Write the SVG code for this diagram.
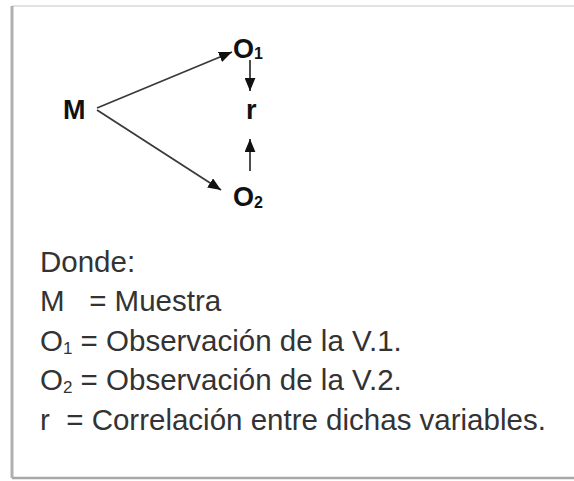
<svg xmlns="http://www.w3.org/2000/svg" width="574" height="481" viewBox="0 0 574 481">
<defs>
<marker id="ah" viewBox="0 0 12 10" refX="12" refY="5" markerWidth="13" markerHeight="11" markerUnits="userSpaceOnUse" orient="auto">
<path d="M0,0 L12,5 L0,10 Z" fill="#111"/>
</marker>
<style>
.n{font-family:"Liberation Sans",Arial,sans-serif;font-weight:bold;font-size:27px;fill:#111}
.sub{font-size:16px}
.leg{font-family:"Liberation Sans",Arial,sans-serif;font-size:29.5px;fill:#333}
.lsub{font-size:17px}
.c{stroke:#3a3a3a;stroke-width:1.8;fill:none;marker-end:url(#ah)}
</style>
</defs>
<rect x="0" y="0" width="574" height="481" fill="#fff"/>
<g id="frame">
<line x1="12" y1="6" x2="574" y2="6" stroke="#e2e2e2" stroke-width="2"/>
<line x1="12" y1="6" x2="12" y2="478" stroke="#b0b0b0" stroke-width="3"/>
<line x1="12" y1="478" x2="574" y2="478" stroke="#a8a8a8" stroke-width="2.5"/>
</g>
<g id="connectors">
<line class="c" x1="97" y1="108" x2="232" y2="52"/>
<line class="c" x1="97" y1="110" x2="221" y2="190"/>
<line class="c" x1="250" y1="60" x2="250" y2="91"/>
<line class="c" x1="250" y1="171" x2="250" y2="139"/>
</g>
<g id="M"><text class="n" x="63" y="119">M</text></g>
<g id="O1"><text class="n" x="233" y="58">O<tspan class="sub" dy="1">1</tspan></text></g>
<g id="r"><text class="n" x="246" y="119">r</text></g>
<g id="O2"><text class="n" x="233" y="206">O<tspan class="sub" dy="2">2</tspan></text></g>
<g id="legend">
<text class="leg" x="40" y="272">Donde:</text>
<text class="leg" x="40" y="311" xml:space="preserve">M   = Muestra</text>
<text class="leg" x="40" y="351">O<tspan class="lsub" dy="3">1</tspan><tspan dy="-3"> = Observación de la V.1.</tspan></text>
<text class="leg" x="40" y="390">O<tspan class="lsub" dy="3">2</tspan><tspan dy="-3"> = Observación de la V.2.</tspan></text>
<text class="leg" x="40" y="430" xml:space="preserve">r  = Correlación entre dichas variables.</text>
</g>
</svg>
